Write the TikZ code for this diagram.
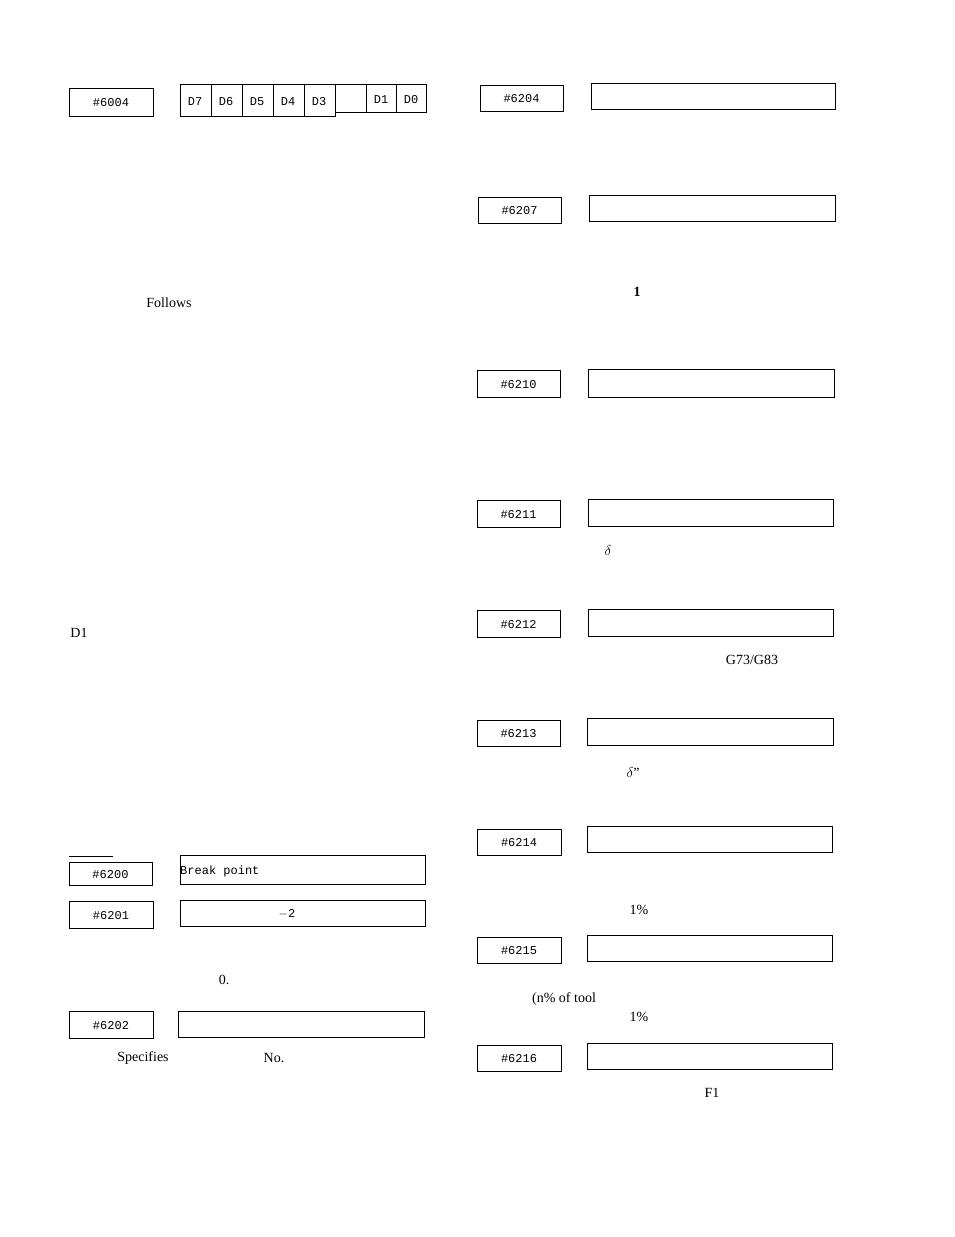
\documentclass[tikz,border=0pt]{standalone}
\usepackage{fontspec}
\setmainfont{Liberation Serif}
\setmonofont{Liberation Mono}
\begin{document}
\begin{tikzpicture}[x=1pt,y=-1pt,
  tx/.style={font=\fontsize{14}{16}\selectfont}]
\useasboundingbox (0,0) rectangle (954,1237);
\newcommand\regbox[5]{\draw[line width=0.7pt] (#1,#2) rectangle (#3,#4); \node[font=\ttfamily\fontsize{12}{13}\selectfont] (#5) at ({(#1+#3)/2},{(#2+#4)/2+1}) {\##5};}
\regbox{69}{88}{153}{116}{6004}
% bit table
\draw[line width=0.7pt] (180,84) -- (426,84) -- (426,112) -- (335,112);
\draw[line width=0.7pt] (180,84) -- (180,116) -- (335,116) -- (335,84);
\foreach \x in {211,242,273,304} \draw[line width=0.7pt] (\x,84) -- (\x,116);
\foreach \x in {366,396} \draw[line width=0.7pt] (\x,84) -- (\x,112);
\foreach \x/\t in {195/D7,226/D6,257/D5,288/D4,319/D3} \node[font=\ttfamily\fontsize{12}{13}\selectfont] (b\t) at (\x,102) {\t};
\foreach \x/\t in {381/D1,411/D0} \node[font=\ttfamily\fontsize{12}{13}\selectfont] (b\t) at (\x,100) {\t};
\node[tx] (fol) at (169,303) {Follows};
\node[tx] (d1) at (79,633) {D1};
\draw[line width=0.7pt] (69,856) -- (113,856);
\regbox{69}{862}{152}{885}{6200}
\draw[line width=0.7pt] (180,855) rectangle (425,884);
\node[font=\ttfamily\fontsize{12}{13}\selectfont,anchor=west,inner sep=0] (bp) at (180,871) {Break point};
\regbox{69}{901}{153}{928}{6201}
\draw[line width=0.7pt] (180,900) rectangle (425,926);
\node[font=\ttfamily\fontsize{12}{13}\selectfont] (m2) at (287,914) {$-$2};
\node[tx] (z) at (224,980) {0.};
\regbox{69}{1011}{153}{1038}{6202}
\draw[line width=0.7pt] (178,1011) rectangle (424,1037);
\node[tx] (sp) at (143,1058) {Specifies};
\node[tx] (no) at (274,1058) {No.};
% right column
\regbox{480}{85}{563}{111}{6204}
\draw[line width=0.7pt] (591,83) rectangle (835,109);
\regbox{478}{197}{561}{223}{6207}
\draw[line width=0.7pt] (589,195) rectangle (835,221);
\node[font=\bfseries\fontsize{14}{16}\selectfont] (one) at (637,292) {1};
\regbox{477}{370}{560}{397}{6210}
\draw[line width=0.7pt] (588,369) rectangle (834,397);
\regbox{477}{500}{560}{527}{6211}
\draw[line width=0.7pt] (588,499) rectangle (833,526);
\node[tx] (dl1) at (608,550) {$\delta$};
\regbox{477}{610}{560}{637}{6212}
\draw[line width=0.7pt] (588,609) rectangle (833,636);
\node[tx] (g73) at (752,660) {G73/G83};
\regbox{477}{720}{560}{746}{6213}
\draw[line width=0.7pt] (587,718) rectangle (833,745);
\node[tx] (dl2) at (633,772) {$\delta$"};
\regbox{477}{829}{561}{855}{6214}
\draw[line width=0.7pt] (587,826) rectangle (832,852);
\node[tx] (p1) at (639,910) {1\%};
\regbox{477}{937}{561}{963}{6215}
\draw[line width=0.7pt] (587,935) rectangle (832,961);
\node[tx] (np) at (564,999) {(n\% of tool};
\node[tx] (p2) at (639,1017) {1\%};
\regbox{477}{1045}{561}{1071}{6216}
\draw[line width=0.7pt] (587,1043) rectangle (832,1069);
\node[tx] (f1) at (712,1093) {F1};
\end{tikzpicture}
\end{document}
